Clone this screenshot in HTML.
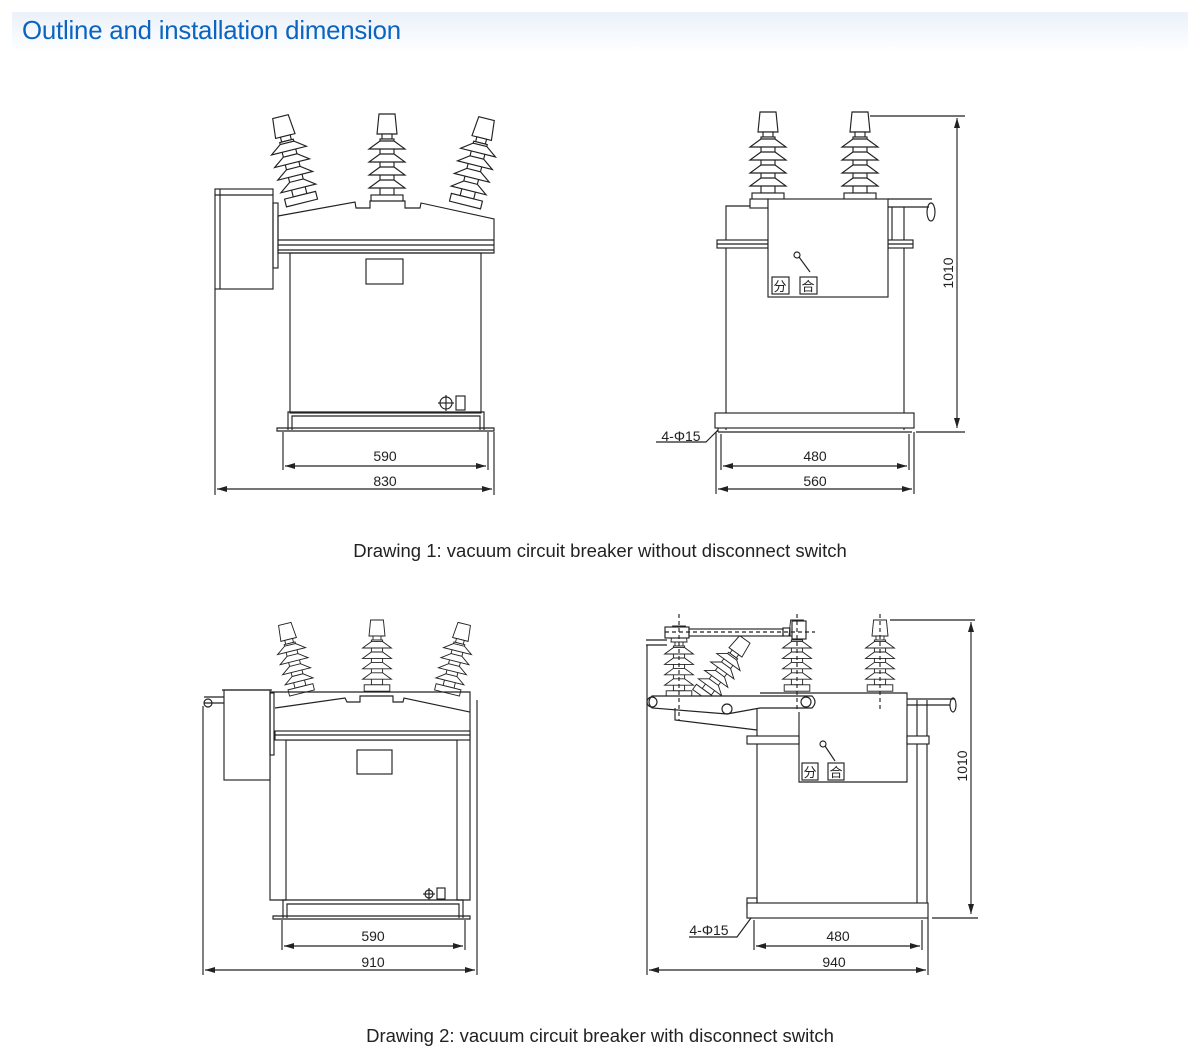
<!DOCTYPE html>
<html><head><meta charset="utf-8">
<style>
html,body{margin:0;padding:0;background:#fff;}
body{width:1200px;height:1062px;position:relative;overflow:hidden;font-family:"Liberation Sans",Arial,sans-serif;}
.hdr{position:absolute;left:12px;top:12px;width:1176px;height:38px;background:linear-gradient(#ebf1fa,#fdfeff);}
.hdr span{position:absolute;left:10px;top:5px;font-size:25.8px;color:#0a64c0;letter-spacing:-0.2px;}
svg{position:absolute;left:0;top:0;}
</style></head><body>
<div class="hdr"><span>Outline and installation dimension</span></div>
<svg width="1200" height="1062" viewBox="0 0 1200 1062" xmlns="http://www.w3.org/2000/svg">
<defs>
<g id="ins" fill="#fff" stroke="#222" stroke-width="1.15">
  <polygon points="-8,0 8,0 10,20 -10,20"/>
  <rect x="-5" y="20" width="10" height="5"/>
  <rect x="-7" y="25" width="14" height="56"/>
  <polygon points="-7,27 7,27 18,35 -18,35"/>
  <polygon points="-7,40 7,40 18,48 -18,48"/>
  <polygon points="-7,53 7,53 18,61 -18,61"/>
  <polygon points="-7,66 7,66 18,74 -18,74"/>
  <rect x="-16" y="81" width="32" height="8"/>
</g>
<marker id="a" viewBox="0 0 10 6" refX="10" refY="3" markerWidth="14" markerHeight="6" markerUnits="userSpaceOnUse" orient="auto-start-reverse"><path d="M0,0L10,3L0,6z" fill="#222"/></marker>
</defs>
<g fill="none" stroke="#222" stroke-width="1.15">

<!-- ===== Drawing 1 left ===== -->
<use href="#ins" transform="translate(302,203) rotate(-14) translate(0,-89)"/>
<use href="#ins" x="387" y="114"/>
<use href="#ins" transform="translate(465,205) rotate(14) translate(0,-89)"/>
<path d="M278,216 L355,202 L356,208 L370,208 L370,201 L405,201 L405,208 L420,208 L421,203 L494,219 L494,253 L278,253 Z" fill="#fff"/>
<line x1="278" y1="240" x2="494" y2="240"/><line x1="278" y1="245" x2="494" y2="245"/><line x1="278" y1="250" x2="494" y2="250"/>
<rect x="215" y="189" width="58" height="100" fill="#fff"/><line x1="220" y1="189" x2="220" y2="289"/><line x1="215" y1="195" x2="273" y2="195"/>
<rect x="273" y="203" width="5" height="65"/>
<rect x="290" y="253" width="191" height="160"/>
<rect x="366" y="259" width="37" height="25"/>
<circle cx="446" cy="403" r="6"/><line x1="438" y1="403" x2="454" y2="403"/><line x1="446" y1="395" x2="446" y2="411"/>
<rect x="456" y="396" width="9" height="14"/>
<path d="M288,430 L288,412 L484,412 L484,430 M292,430 L292,416 L480,416 L480,430"/>
<path d="M277,428 L494,428 L494,431 L277,431 Z"/>
<line x1="283" y1="432" x2="283" y2="470"/><line x1="488" y1="432" x2="488" y2="470"/>
<line x1="215" y1="289" x2="215" y2="495"/><line x1="494" y1="432" x2="494" y2="495"/>
<line x1="285" y1="466" x2="486" y2="466" marker-start="url(#a)" marker-end="url(#a)"/>
<line x1="217" y1="489" x2="492" y2="489" marker-start="url(#a)" marker-end="url(#a)"/>

<!-- ===== Drawing 1 right ===== -->
<use href="#ins" x="768" y="112"/>
<use href="#ins" x="860" y="112"/>
<path d="M726,430 L726,206 L750,206 M904,430 L904,207"/>
<rect x="750" y="199" width="18" height="9" fill="#fff"/>
<rect x="717" y="240" width="51" height="8" fill="#fff"/><line x1="717" y1="244" x2="768" y2="244"/>
<rect x="888" y="240" width="25" height="8" fill="#fff"/><line x1="888" y1="244" x2="913" y2="244"/>
<rect x="768" y="199" width="120" height="98" fill="#fff"/>
<path d="M888,199 L932,199 M888,207 L929,207"/><ellipse cx="931" cy="212" rx="4" ry="9"/><line x1="892" y1="207" x2="892" y2="240"/>
<circle cx="797" cy="255" r="3"/><line x1="799" y1="257" x2="810" y2="272"/>
<rect x="772" y="277" width="17" height="17"/><rect x="800" y="277" width="17" height="17"/>
<rect x="715" y="413" width="199" height="15" fill="#fff"/><line x1="718" y1="432" x2="912" y2="432"/><line x1="718" y1="428" x2="718" y2="432"/>
<path d="M870,116 L965,116 M916,432 L965,432"/>
<line x1="957" y1="118" x2="957" y2="428" marker-start="url(#a)" marker-end="url(#a)"/>
<line x1="716" y1="432" x2="716" y2="494"/><line x1="914" y1="432" x2="914" y2="494"/>
<line x1="721" y1="434" x2="721" y2="470"/><line x1="909" y1="434" x2="909" y2="470"/>
<line x1="723" y1="466" x2="907" y2="466" marker-start="url(#a)" marker-end="url(#a)"/>
<line x1="718" y1="489" x2="912" y2="489" marker-start="url(#a)" marker-end="url(#a)"/>
<path d="M656,442 L706,442 L718,430"/>

<!-- ===== Drawing 2 left ===== -->
<use href="#ins" transform="translate(302,693) scale(0.8) rotate(-14) translate(0,-89)"/>
<use href="#ins" transform="translate(377,620) scale(0.8)"/>
<use href="#ins" transform="translate(447,693) scale(0.8) rotate(14) translate(0,-89)"/>
<path d="M272,692 L470,692 L470,900 L457,900 L457,740 L286,740 L286,900 L270,900 L270,692 Z"/>
<path d="M275,708 L345,698 L347,702 L360,702 L360,696 L393,696 L393,702 L403,702 L404,698 L470,712"/>
<rect x="275" y="731" width="195" height="9" fill="#fff"/><line x1="275" y1="735" x2="470" y2="735"/>
<rect x="224" y="690" width="46" height="90" fill="#fff"/><line x1="222" y1="690" x2="272" y2="690"/>
<rect x="270" y="693" width="4" height="62"/>
<rect x="357" y="750" width="35" height="24"/>
<circle cx="429" cy="894" r="4"/><line x1="423" y1="894" x2="435" y2="894"/><line x1="429" y1="888" x2="429" y2="900"/>
<rect x="437" y="888" width="8" height="11"/>
<path d="M283,918 L283,900 L463,900 L463,918 M287,918 L287,904 L459,904 L459,918"/>
<path d="M273,916 L470,916 L470,919 L273,919 Z"/>
<path d="M204,697 L224,697 M204,703 L224,703"/><circle cx="208" cy="703" r="4"/>
<line x1="203" y1="706" x2="203" y2="975"/><line x1="477" y1="700" x2="477" y2="975"/>
<line x1="282" y1="920" x2="282" y2="950"/><line x1="465" y1="920" x2="465" y2="950"/>
<line x1="284" y1="946" x2="463" y2="946" marker-start="url(#a)" marker-end="url(#a)"/>
<line x1="205" y1="970" x2="475" y2="970" marker-start="url(#a)" marker-end="url(#a)"/>

<!-- ===== Drawing 2 right ===== -->
<use href="#ins" transform="translate(679,626) scale(0.8)"/>
<use href="#ins" transform="translate(703,697) scale(0.8) rotate(36) translate(0,-89)"/>
<use href="#ins" transform="translate(797,620) scale(0.8)"/>
<use href="#ins" transform="translate(880,620) scale(0.8)"/>
<rect x="665" y="627" width="24" height="11" fill="#fff"/>
<rect x="689" y="629" width="94" height="7" fill="#fff"/>
<rect x="783" y="628" width="7" height="8"/><rect x="792" y="621" width="14" height="18" fill="#fff"/>
<path d="M646,640 L667,640 M646,645 L667,645"/>
<path d="M760,693 L907,693 L907,782 L799,782 L799,712"/>
<path d="M652,696 L812,696 Q818,702 812,708 L760,708 L727,714 L652,708 Q646,702 652,696 Z" fill="#fff"/>
<circle cx="652" cy="702" r="5"/><circle cx="727" cy="709" r="5"/><circle cx="806" cy="702" r="5"/>
<path d="M675,708 L675,720 L757,730"/>
<path d="M757,708 L757,903 M917,700 L917,903 M927,700 L927,903"/>
<rect x="747" y="736" width="52" height="8" fill="#fff"/>
<rect x="907" y="736" width="22" height="8" fill="#fff"/>
<path d="M907,699 L955,699 M907,705 L950,705"/><ellipse cx="953" cy="705" rx="3" ry="7"/>
<circle cx="823" cy="744" r="3"/><line x1="825" y1="746" x2="835" y2="761"/>
<rect x="802" y="763" width="16" height="17"/><rect x="828" y="763" width="16" height="17"/>
<rect x="747" y="898" width="10" height="10"/>
<rect x="747" y="903" width="181" height="15" fill="#fff"/>
<g stroke-dasharray="4,3"><line x1="679" y1="614" x2="679" y2="720"/><line x1="797" y1="614" x2="797" y2="710"/><line x1="880" y1="614" x2="880" y2="710"/><line x1="665" y1="632" x2="815" y2="632"/></g>
<path d="M890,620 L975,620 M932,918 L978,918"/>
<line x1="971" y1="622" x2="971" y2="914" marker-start="url(#a)" marker-end="url(#a)"/>
<line x1="647" y1="645" x2="647" y2="975"/><line x1="928" y1="918" x2="928" y2="975"/>
<line x1="754" y1="920" x2="754" y2="950"/><line x1="922" y1="920" x2="922" y2="950"/>
<line x1="756" y1="946" x2="920" y2="946" marker-start="url(#a)" marker-end="url(#a)"/>
<line x1="649" y1="970" x2="926" y2="970" marker-start="url(#a)" marker-end="url(#a)"/>
<path d="M689,937 L737,937 L751,918"/>
</g>
<g font-family="Liberation Sans, Arial, sans-serif" font-size="14" fill="#222" text-anchor="middle">
<text x="385" y="461">590</text><text x="385" y="486">830</text>
<text x="815" y="461">480</text><text x="815" y="486">560</text>
<text x="681" y="441">4-Φ15</text>
<text transform="translate(953,273) rotate(-90)">1010</text>
<text x="373" y="941">590</text><text x="373" y="967">910</text>
<text x="838" y="941">480</text><text x="834" y="967">940</text>
<text x="709" y="935">4-Φ15</text>
<text transform="translate(967,766) rotate(-90)">1010</text>
</g>
<g font-family="Liberation Sans, 'Noto Sans CJK SC', sans-serif" font-size="13" fill="#222" text-anchor="middle">
<text x="780" y="291">分</text><text x="808" y="291">合</text>
<text x="810" y="777">分</text><text x="836" y="777">合</text>
</g>
<g font-family="Liberation Sans, Arial, sans-serif" font-size="18.5" fill="#222" text-anchor="middle">
<text x="600" y="557">Drawing 1: vacuum circuit breaker without disconnect switch</text>
<text x="600" y="1042">Drawing 2: vacuum circuit breaker with disconnect switch</text>
</g>
</svg>
</body></html>
